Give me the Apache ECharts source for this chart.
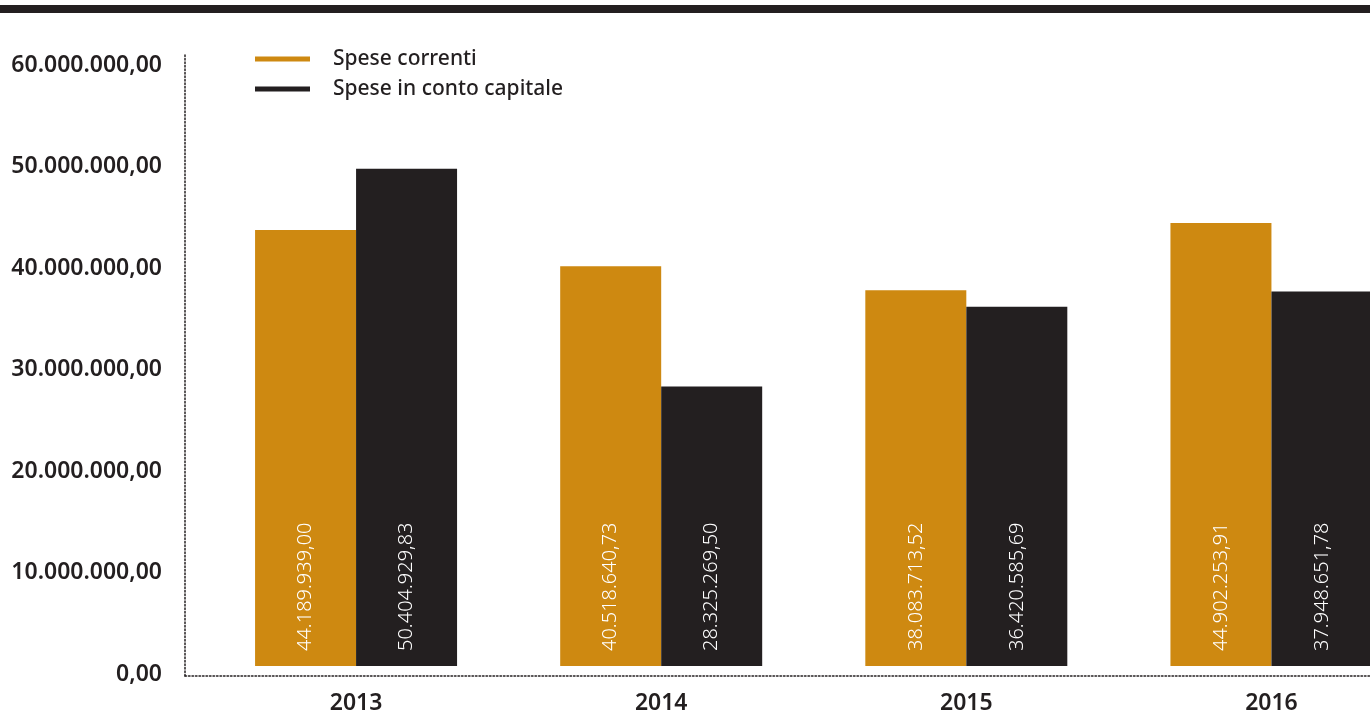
<!DOCTYPE html>
<html>
<head>
<meta charset="utf-8">
<script src="https://cdn.jsdelivr.net/npm/echarts@6/dist/echarts.min.js"></script>
<style>
  html, body { margin: 0; padding: 0; background: #ffffff; overflow: hidden; width: 1370px; height: 715px; }
  /* the plot runs past the right edge; the last pair of bars is cut off */
  #chart { width: 1424px; height: 715px; }
</style>
</head>
<body>
<div id="chart"></div>
<script>
// Spesa per anno (euro)
const years = ['2013', '2014', '2015', '2016'];
const speseCorrenti = [44189939.00, 40518640.73, 38083713.52, 44902253.91];
const speseCapitale = [50404929.83, 28325269.50, 36420585.69, 37948651.78];
const seriesNames = ['Spese correnti', 'Spese in conto capitale'];
const yTicks = [0, 10000000, 20000000, 30000000, 40000000, 50000000, 60000000];

const ORANGE = '#CE8911';
const DARK = '#231F20';
const FONT = '"Noto Sans", sans-serif';

// Italian number format: 1.234.567,89
function fmtIt(v) {
  const parts = Number(v).toFixed(2).split('.');
  const intPart = parts[0].replace(/\B(?=(\d{3})+(?!\d))/g, '.');
  return intPart + ',' + parts[1];
}

const barLabel = {
  show: true,
  position: 'insideBottom',
  rotate: 90,
  align: 'left',
  verticalAlign: 'middle',
  distance: 19,
  offset: [-4, 0],
  color: '#ffffff',
  fontFamily: FONT,
  fontSize: 20,
  fontWeight: 300,
  formatter: p => fmtIt(p.value)
};

const chart = echarts.init(document.getElementById('chart'), null, { renderer: 'canvas' });

chart.setOption({
  animation: false,
  backgroundColor: '#ffffff',
  graphic: [{
    type: 'rect',
    shape: { x: 0, y: 5, width: 1370, height: 8 },
    style: { fill: DARK }
  }],
  legend: {
    orient: 'vertical',
    left: 255,
    top: 48,
    padding: 0,
    icon: 'rect',
    itemWidth: 55,
    itemHeight: 5,
    itemGap: 8,
    selectedMode: false,
    textStyle: {
      color: DARK,
      fontFamily: FONT,
      fontSize: 21,
      fontWeight: 500,
      lineHeight: 22,
      padding: [0, 0, 0, 18]
    },
    data: seriesNames
  },
  grid: [
    // bars
    { left: 203.5, right: 0, top: 74, bottom: 47, containLabel: false },
    // value labels on the left
    { left: 185, right: 54, top: 65, bottom: 41, containLabel: false },
    // dotted frame lines
    { left: 185, right: 54, top: 53, bottom: 39, containLabel: false }
  ],
  xAxis: [
    {
      gridIndex: 0,
      type: 'category',
      data: years,
      axisLine: { show: false },
      axisTick: { show: false },
      axisLabel: {
        color: DARK,
        fontFamily: FONT,
        fontSize: 23,
        fontWeight: 600,
        margin: 26
      }
    },
    { gridIndex: 1, type: 'value', show: false },
    {
      gridIndex: 2,
      type: 'value',
      axisLine: { show: true, lineStyle: { color: DARK, width: 1.5, type: [1.5, 2] } },
      axisTick: { show: false },
      axisLabel: { show: false },
      splitLine: { show: false }
    }
  ],
  yAxis: [
    {
      gridIndex: 0,
      type: 'value',
      min: 0,
      max: 60000000,
      interval: 10000000,
      show: false
    },
    {
      gridIndex: 1,
      type: 'value',
      min: yTicks[0],
      max: yTicks[yTicks.length - 1],
      interval: 10000000,
      axisLine: { show: false },
      axisTick: { show: false },
      splitLine: { show: false },
      axisLabel: {
        color: DARK,
        fontFamily: FONT,
        fontSize: 23,
        fontWeight: 600,
        margin: 23,
        formatter: v => fmtIt(v)
      }
    },
    {
      gridIndex: 2,
      type: 'value',
      axisLine: { show: true, lineStyle: { color: DARK, width: 1.5, type: [1.5, 2] } },
      axisTick: { show: false },
      axisLabel: { show: false },
      splitLine: { show: false }
    }
  ],
  series: [
    {
      name: seriesNames[0],
      type: 'bar',
      xAxisIndex: 0,
      yAxisIndex: 0,
      data: speseCorrenti,
      barWidth: 101,
      barGap: '0%',
      itemStyle: { color: ORANGE },
      label: barLabel
    },
    {
      name: seriesNames[1],
      type: 'bar',
      xAxisIndex: 0,
      yAxisIndex: 0,
      data: speseCapitale,
      barWidth: 101,
      barGap: '0%',
      itemStyle: { color: DARK },
      label: barLabel
    }
  ]
});
</script>
</body>
</html>
